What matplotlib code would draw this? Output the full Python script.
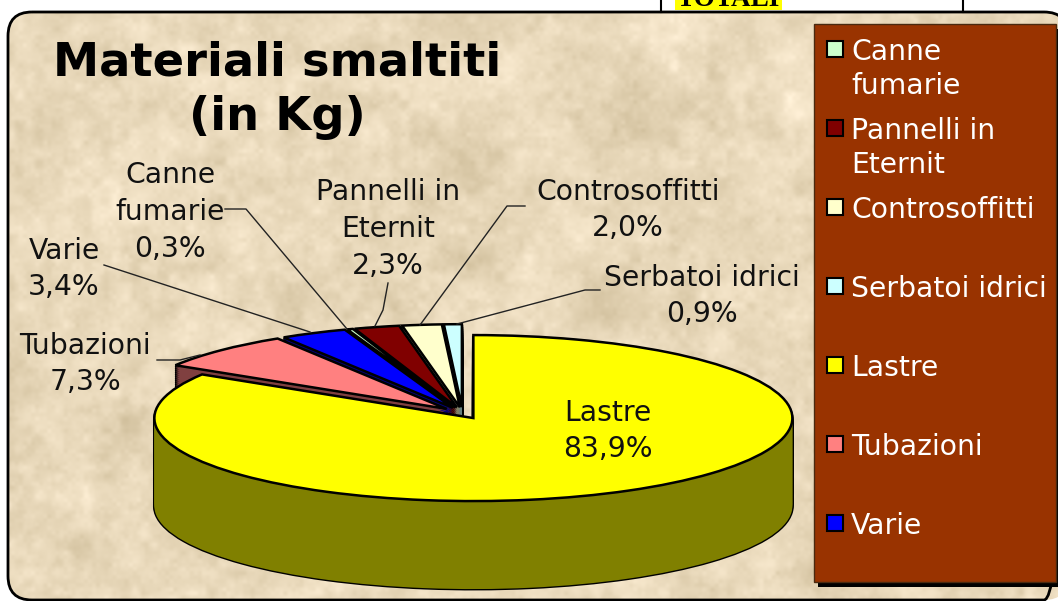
import numpy as np
import matplotlib
matplotlib.use('Agg')
from matplotlib import pyplot as plt
from matplotlib.patches import FancyBboxPatch, Rectangle

W, H = 1058, 601

# pie data, in drawing order (clockwise from 12 o'clock)
names = ['Lastre', 'Tubazioni', 'Varie', 'Canne\nfumarie', 'Pannelli in\nEternit',
         'Controsoffitti', 'Serbatoi idrici']
values = [83.9, 7.3, 3.4, 0.3, 2.3, 2.0, 0.9]
explode = [0.07] * 7
top_colors = ['#FFFF00', '#FF8080', '#0000FF', '#CCFFCC', '#800000', '#FFFFCC', '#CCFFFF']
side_colors = ['#808000', '#804040', '#000080', '#668066', '#400000', '#808066', '#668080']

legend_order = [3, 4, 5, 6, 0, 1, 2]

# label centres in pixels, same order as names
label_xy = [(608, 431), (85, 364), (64, 269), (170, 212), (388, 229), (628, 210), (702, 296)]

# leader lines in pixels
leaders = [
    [(157, 360), (180, 360), (200, 355)],
    [(104, 265), (310, 332)],
    [(225, 209), (246, 209), (347, 329)],
    [(388, 283), (383, 310), (375, 326)],
    [(525, 206), (507, 206), (420, 325)],
    [(600, 290), (585, 290), (457, 324)],
]

cx, cy, rx, ry, depth = 462.5, 413, 319, 83, 88

fig = plt.figure(figsize=(W / 100, H / 100), dpi=100)
fig.patch.set_facecolor('white')

# background: box with parchment texture
bg = fig.add_axes([0, 0, 1, 1])
bg.axis('off')

rng = np.random.default_rng(3)
tex = np.zeros((H, W))
yy, xx = np.mgrid[0:H, 0:W]
for n, amp in [(14, 4), (40, 5), (110, 4), (260, 2)]:
    m = n * H // W + 1
    g = rng.normal(size=(m + 1, n + 1))
    ix = np.minimum((xx / W * n).astype(int), n - 1)
    iy = np.minimum((yy / H * m).astype(int), m - 1)
    fx = xx / W * n - ix
    fy = yy / H * m - iy
    fx = fx * fx * (3 - 2 * fx)
    fy = fy * fy * (3 - 2 * fy)
    tex += amp * (g[iy, ix] * (1 - fx) * (1 - fy) + g[iy, ix + 1] * fx * (1 - fy)
                  + g[iy + 1, ix] * (1 - fx) * fy + g[iy + 1, ix + 1] * fx * fy)
base = np.array([233, 217, 187])
img = np.clip(base[None, None, :] + tex[:, :, None] * np.array([1, 1.05, 1.25]), 0, 255) / 255
im = bg.imshow(img, extent=(0, W, H, 0), aspect='auto', zorder=1)
box = FancyBboxPatch((8, 12), 1060, 588, boxstyle='round,pad=0,rounding_size=24',
                     fc='none', ec='black', lw=2, zorder=2)
bg.add_patch(box)
im.set_clip_path(box)
bg.set_xlim(0, W)
bg.set_ylim(H, 0)

# bit of the table above the box
bg.plot([661, 661], [0, 12], color='black', lw=1.5, zorder=2)
bg.plot([963, 963], [0, 12], color='black', lw=1.5, zorder=2)
bg.add_patch(Rectangle((675, 0), 107, 10, fc='#FFFF00', ec='none', zorder=2))
bg.text(728, 6, 'TOTALI', family='Liberation Serif', weight='bold', fontsize=19.5, ha='center', va='baseline',
        zorder=3, clip_on=True)

# pie
ax = fig.add_axes([0, 0, 1, 1])
ax.patch.set_alpha(0)


def draw_layer(shift, colors, edge, lw, show):
    wedges, _ = ax.pie(values, explode=explode, colors=colors, center=(0, shift), startangle=90,
                       counterclock=False, wedgeprops=dict(edgecolor=edge, linewidth=lw))
    for i, w in enumerate(wedges):
        w.set_visible(i in show)


small = range(1, len(values))
shifts = np.arange(depth, 0, -2) / ry
for s in shifts:
    draw_layer(-s, side_colors, 'black', 2, small)
for s in shifts:
    draw_layer(-s, side_colors, 'none', 0, small)
draw_layer(0, top_colors, 'black', 1.8, small)
for s in shifts:
    draw_layer(-s, side_colors, 'black', 2, [0])
for s in shifts:
    draw_layer(-s, side_colors, 'none', 0, [0])
draw_layer(0, top_colors, 'black', 1.8, [0])

ax.set_aspect('auto')
ax.set_xlim((0 - cx) / rx, (W - cx) / rx)
ax.set_ylim((cy - H) / ry, cy / ry)
ax.axis('off')

# overlay in pixels: legend, title, labels
ov = fig.add_axes([0, 0, 1, 1])
ov.set_xlim(0, W)
ov.set_ylim(H, 0)
ov.axis('off')

for line in leaders:
    ov.plot([p[0] for p in line], [p[1] for p in line], color='#222222', lw=1)

ov.text(277, 90, 'Materiali smaltiti\n(in Kg)', fontsize=33.4, weight='bold', ha='center', va='center',
        linespacing=1.27, color='black')

for i, name in enumerate(names):
    pct = f'{values[i]:.1f}'.replace('.', ',')
    ov.text(label_xy[i][0], label_xy[i][1], name + '\n' + pct + '%', fontsize=20.3, ha='center', va='center',
            linespacing=1.4, color='#111111')

ov.add_patch(Rectangle((818, 29), 243, 558, fc='black', ec='none'))
ov.add_patch(Rectangle((814, 24), 242, 558, fc='#993300', ec='#4a2a10', lw=1))
for row, i in enumerate(legend_order):
    y = 49 + 79 * row
    ov.add_patch(Rectangle((827, y - 8), 16, 16, fc=top_colors[i], ec='black', lw=1.5))
    ov.text(851, y - 11, names[i], fontsize=20.3, color='white', ha='left', va='top', linespacing=1.28)

fig.savefig('out.png', dpi=100)
